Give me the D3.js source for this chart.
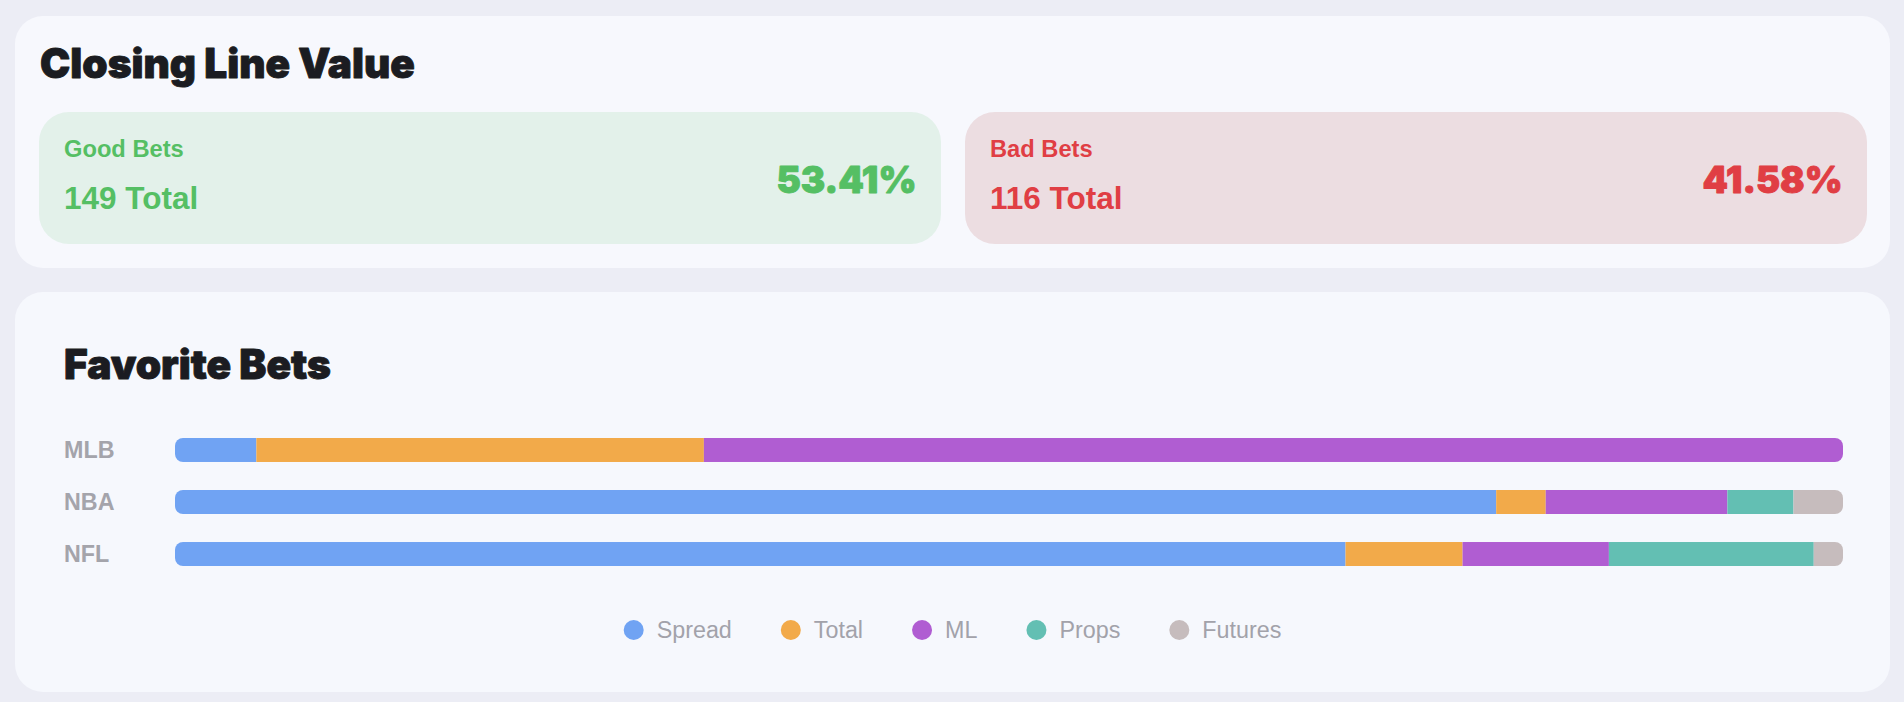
<!DOCTYPE html>
<html>
<head>
<meta charset="utf-8">
<script src="https://cdn.jsdelivr.net/npm/d3@7"></script>
<style>
html,body{margin:0;padding:0;background:#ecedf5;}
svg{display:block;}
</style>
</head>
<body>
<svg id="chart" width="1904" height="702"></svg>
<script>
// ---- data ----
const sports = ["MLB", "NBA", "NFL"];
const betTypes = ["Spread", "Total", "ML", "Props", "Futures"];
const spreadBets = [2, 80, 40];
const totalBets = [11, 3, 4];
const mlBets = [28, 11, 5];
const propsBets = [0, 4, 7];
const futuresBets = [0, 3, 1];
const typeColors = ["#70a3f3", "#f2aa4a", "#b05dd2", "#63bfb3", "#c6bcbd"];

const clvLabels = ["Good Bets", "Bad Bets"];
const clvTotals = [149, 116];
const clvPercents = [53.41, 41.58];
const clvColors = ["#55bf64", "#e03e44"];
const clvBg = ["#e3f1ea", "#ecdde1"];

const svg = d3.select("#chart");
const sansBold = "'Liberation Sans', Arial, Helvetica, sans-serif";
const heavy = "Inter, 'DejaVu Sans', sans-serif";

function fitWidth(sel, target) {
  sel.each(function () {
    const el = d3.select(this);
    const fs = parseFloat(el.attr("font-size"));
    const w = this.getComputedTextLength();
    if (w > 0) el.attr("font-size", fs * target / w);
  });
}
function heavyStyle(sel, col) {
  sel.attr("font-family", heavy).attr("font-weight", 900).attr("fill", col)
    .attr("stroke", col).attr("stroke-width", 0.9).attr("stroke-linejoin", "round");
}

// ---- top card: Closing Line Value ----
const topCard = svg.append("g");
topCard.append("rect").attr("x", 15).attr("y", 16).attr("width", 1875).attr("height", 252)
  .attr("rx", 28).attr("fill", "#f7f8fd");
topCard.append("text").attr("x", 40).attr("y", 78).text("Closing Line Value")
  .attr("font-size", 40).call(heavyStyle, "#1b1c21").call(fitWidth, 375);

const boxX = d3.scaleBand().domain(clvLabels).range([39, 1867]).paddingInner(24 / 926);
clvLabels.forEach((lab, i) => {
  const x0 = boxX(lab), bw = boxX.bandwidth();
  const g = topCard.append("g");
  g.append("rect").attr("x", x0).attr("y", 112).attr("width", bw).attr("height", 132)
    .attr("rx", 30).attr("fill", clvBg[i]);
  g.append("text").attr("x", x0 + 25).attr("y", 157).text(lab)
    .attr("font-family", sansBold).attr("font-weight", 700).attr("font-size", 23.7)
    .attr("fill", clvColors[i]);
  g.append("text").attr("x", x0 + 25).attr("y", 209).text(clvTotals[i] + " Total")
    .attr("font-family", sansBold).attr("font-weight", 700).attr("font-size", 31.5)
    .attr("fill", clvColors[i]);
  g.append("text").attr("x", x0 + bw - 24.5).attr("y", 193).attr("text-anchor", "end")
    .text(d3.format(".2f")(clvPercents[i]) + "%")
    .attr("font-size", 44).call(heavyStyle, clvColors[i]).call(fitWidth, 140);
});

// ---- bottom card: Favorite Bets ----
const botCard = svg.append("g");
botCard.append("rect").attr("x", 15).attr("y", 292).attr("width", 1875).attr("height", 400)
  .attr("rx", 28).attr("fill", "#f6f8fd");
botCard.append("text").attr("x", 64).attr("y", 378.5).text("Favorite Bets")
  .attr("font-size", 40).call(heavyStyle, "#1b1c21").call(fitWidth, 267);

const rows = sports.map((s, i) => ({
  sport: s,
  Spread: spreadBets[i], Total: totalBets[i], ML: mlBets[i],
  Props: propsBets[i], Futures: futuresBets[i]
}));
const stack = d3.stack().keys(betTypes).offset(d3.stackOffsetExpand);
const series = stack(rows);

const x = d3.scaleLinear().domain([0, 1]).range([175, 1843]);
const y = d3.scaleBand().domain(sports).range([426, 578]).paddingInner(28 / 52).paddingOuter(0.23);
const color = d3.scaleOrdinal().domain(betTypes).range(typeColors);

const defs = svg.append("defs");
sports.forEach((s, i) => {
  defs.append("clipPath").attr("id", "clip" + i)
    .append("rect").attr("x", x(0)).attr("y", y(s)).attr("width", x(1) - x(0))
    .attr("height", y.bandwidth()).attr("rx", 8);
});

const barsG = botCard.append("g");
sports.forEach((s, i) => {
  const rowG = barsG.append("g").attr("clip-path", `url(#clip${i})`);
  rowG.selectAll("rect").data(series.map(ser => ({ key: ser.key, v: ser[i] })))
    .join("rect")
    .attr("x", d => x(d.v[0]))
    .attr("y", y(s))
    .attr("width", d => Math.max(0, x(d.v[1]) - x(d.v[0])))
    .attr("height", y.bandwidth())
    .attr("fill", d => color(d.key));
});

const yAxis = d3.axisLeft(y).tickSize(0).tickPadding(0);
const yAxisG = botCard.append("g").attr("transform", "translate(64,0)").call(yAxis);
yAxisG.select(".domain").remove();
yAxisG.selectAll("text")
  .attr("text-anchor", "start").attr("x", 0).attr("dy", "0.35em")
  .attr("font-family", sansBold).attr("font-weight", 700).attr("font-size", 23.3)
  .attr("fill", "#a4a4ab");

const legG = botCard.append("g");
const items = legG.selectAll("g").data(betTypes).join("g");
items.append("circle").attr("r", 10).attr("cx", 10).attr("cy", 630)
  .attr("fill", d => color(d));
items.append("text").attr("x", 33).attr("y", 630).attr("dy", "0.35em").text(d => d)
  .attr("font-family", sansBold).attr("font-size", 23.3).attr("fill", "#a2a2aa");
const widths = [];
items.each(function () { widths.push(this.getBBox().width); });
const gap = 49;
const totalW = d3.sum(widths) + gap * (widths.length - 1);
let cx = (15 + 1890) / 2 - totalW / 2;
items.each(function (d, i) {
  d3.select(this).attr("transform", `translate(${cx},0)`);
  cx += widths[i] + gap;
});
</script>
</body>
</html>
